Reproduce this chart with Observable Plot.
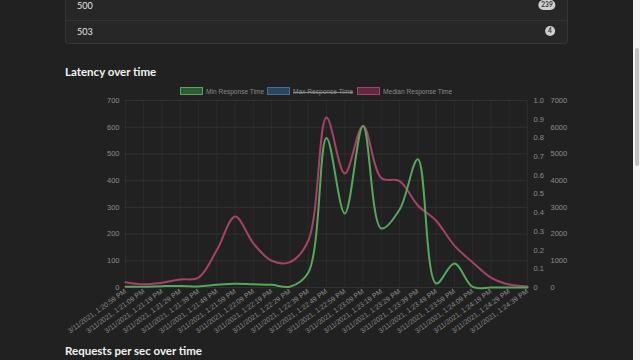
<!DOCTYPE html>
<html>
<head>
<meta charset="utf-8">
<script src="https://cdn.jsdelivr.net/npm/d3@7"></script>
<script src="https://cdn.jsdelivr.net/npm/@observablehq/plot@0.6"></script>
<style>
  html, body { margin: 0; padding: 0; }
  body { width: 640px; height: 360px; overflow: hidden; background: #212121; position: relative; font-family: Lato, "Open Sans", sans-serif; }
  .card { position: absolute; left: 65px; top: -12px; width: 501px; height: 54px; background: #272727; border: 1px solid #363636; border-radius: 3px; }
  .row { position: absolute; left: 0; right: 0; height: 25px; color: #e6e6e6; font-size: 9px; }
  .row span.code { position: absolute; left: 11px; top: 50%; transform: translateY(-50%); }
  .badge { position: absolute; top: 50%; transform: translate(-50%, -50%); background: #cfcfcf; color: #333; font-size: 6.5px; border-radius: 5px; padding: 1px 3px; line-height: 8px; font-weight: bold; }
  .sep { position: absolute; left: 0; right: 0; top: 31px; border-top: 1px solid #343434; }
  .title { position: absolute; left: 65px; color: #f2f2f2; font-weight: bold; font-size: 11.5px; }
  .legend { position: absolute; top: 86px; height: 10px; font-family: "Liberation Sans", Arial, sans-serif; font-size: 6.6px; color: #8a8a8a; }
  .legend .item { position: absolute; top: 0; white-space: nowrap; }
  .legend .box { position: absolute; top: 1px; width: 23px; height: 8px; border: 1px solid; box-sizing: border-box; }
  .legend .lbl { position: absolute; top: 1.5px; }
  .scroll { position: absolute; left: 633px; top: 0; width: 7px; height: 360px; background: #f4f4f4; }
  .thumb { position: absolute; left: 635px; top: 48px; width: 4px; height: 118px; background: #c4c4c4; border-radius: 2px; }
  #chart { position: absolute; left: 0; top: 95px; }
</style>
</head>
<body>
<div class="card">
  <div class="row" style="top:3px;"><span class="code">500</span><span class="badge" style="left:481px;">239</span></div>
  <div class="sep"></div>
  <div class="row" style="top:29px;"><span class="code">503</span><span class="badge" style="left:484px;">4</span></div>
</div>
<div class="title" style="top:65px;">Latency over time</div>
<div class="legend" id="legend"></div>
<div id="chart"></div>
<div class="title" style="top:344px;">Requests per sec over time</div>
<div class="scroll"></div>
<div class="thumb"></div>
<script>
// ---- data ----
const times = [
  "1:20:59 PM", "1:21:09 PM", "1:21:19 PM", "1:21:29 PM", "1:21:39 PM", "1:21:49 PM",
  "1:21:59 PM", "1:22:09 PM", "1:22:19 PM", "1:22:29 PM", "1:22:39 PM", "1:22:49 PM",
  "1:22:59 PM", "1:23:09 PM", "1:23:19 PM", "1:23:29 PM", "1:23:39 PM", "1:23:49 PM",
  "1:23:59 PM", "1:24:09 PM", "1:24:19 PM", "1:24:29 PM", "1:24:39 PM"
];
const datePrefix = "3/11/2021, ";
const minResponse = [3, 3, 5, 6, 4, 10, 14, 12, 10, 3, 55, 560, 277, 605, 221, 292, 480, 15, 90, 2, 0, 0, 0];
const medianResponse = [20, 12, 18, 30, 37, 140, 266, 165, 100, 95, 175, 636, 427, 605, 410, 398, 307, 250, 157, 94, 37, 11, 4];
const seriesNames = ["Min Response Time", "Max Response Time", "Median Response Time"];
const seriesColors = ["#55a75c", "#3f6f9a", "#a8416a"];
const seriesFills = ["rgba(60,140,70,0.55)", "rgba(50,100,150,0.55)", "rgba(150,50,90,0.55)"];
const seriesHidden = [false, true, false];
const leftTicks = [0, 100, 200, 300, 400, 500, 600, 700];
const rightTicksA = [0, 0.1, 0.2, 0.3, 0.4, 0.5, 0.6, 0.7, 0.8, 0.9, 1.0];
const rightTicksB = [0, 1000, 2000, 3000, 4000, 5000, 6000, 7000];

// ---- legend ----
const legendPos = [180, 267, 357];
const legend = document.getElementById("legend");
seriesNames.forEach((n, i) => {
  const it = document.createElement("div");
  it.className = "item";
  it.style.left = legendPos[i] + "px";
  const b = document.createElement("div");
  b.className = "box";
  b.style.left = "0px";
  b.style.background = seriesFills[i];
  b.style.borderColor = seriesColors[i];
  const t = document.createElement("div");
  t.className = "lbl";
  t.style.left = "26px";
  t.textContent = n;
  if (seriesHidden[i]) t.style.textDecoration = "line-through";
  it.appendChild(b); it.appendChild(t);
  legend.appendChild(it);
});

// ---- chart ----
const idx = d3.range(times.length);
const minData = minResponse.map((v, i) => ({i, v}));
const medData = medianResponse.map((v, i) => ({i, v}));
const tickFont = {fill: "#8d8d8d", fontSize: 7.5};

const chart = Plot.plot({
  width: 640,
  height: 250,
  marginLeft: 125,
  marginRight: 113,
  marginTop: 5,
  marginBottom: 58,
  style: {background: "transparent", color: "#8d8d8d", fontFamily: "'Liberation Sans', Arial, sans-serif", fontSize: "7.5px"},
  x: {type: "linear", domain: [0, times.length - 1]},
  y: {domain: [0, 700]},
  marks: [
    Plot.gridY(leftTicks, {stroke: "#ffffff", strokeOpacity: 0.07}),
    Plot.gridX(idx, {stroke: "#ffffff", strokeOpacity: 0.045}),
    Plot.axisY(leftTicks, {anchor: "left", tickSize: 0, tickPadding: 6, ...tickFont, label: null}),
    Plot.axisY(rightTicksA.map(d => d * 700), {anchor: "right", tickSize: 0, tickPadding: 6, ...tickFont, label: null,
      tickFormat: d => d === 0 ? "0" : (d / 700).toFixed(1)}),
    Plot.axisY(rightTicksB.map(d => d / 10), {anchor: "right", tickSize: 0, tickPadding: 23, ...tickFont, label: null,
      tickFormat: d => String(Math.round(d * 10))}),
    Plot.axisX(idx, {anchor: "bottom", tickSize: 0, tickPadding: 3, tickRotate: -36, fill: "#8d8d8d", fontSize: 7, label: null,
      tickFormat: i => datePrefix + times[i]}),
    Plot.line(medData, {x: "i", y: "v", curve: "catmull-rom", stroke: seriesColors[2], strokeWidth: 2}),
    Plot.line(minData, {x: "i", y: "v", curve: "catmull-rom", stroke: seriesColors[0], strokeWidth: 2})
  ]
});
document.getElementById("chart").appendChild(chart);
</script>
</body>
</html>
